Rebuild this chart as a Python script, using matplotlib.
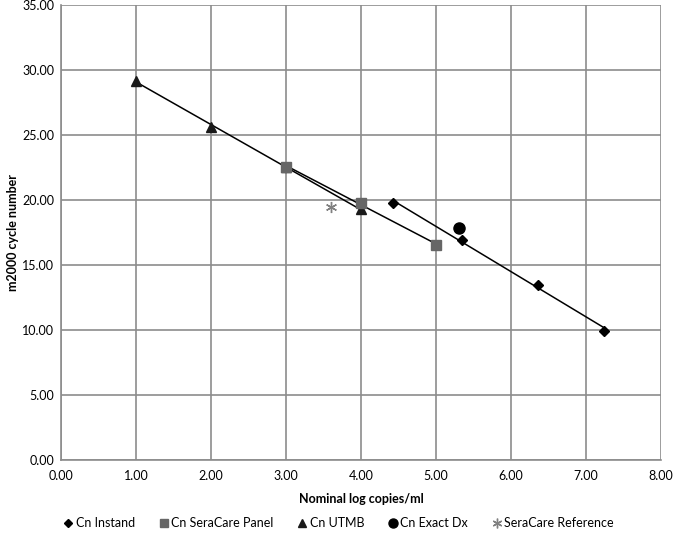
import numpy as np
import matplotlib
matplotlib.use("Agg")
import matplotlib.pyplot as plt
from matplotlib.lines import Line2D

plt.rcParams['font.family'] = ['Lato', 'DejaVu Sans']

# Data
instand_x = [4.43, 5.35, 6.36, 7.24]
instand_y = [19.77, 16.90, 13.50, 9.95]
panel_x = [3.0, 4.0, 5.0]
panel_y = [22.56, 19.80, 16.54]
utmb_x = [1.0, 2.0, 3.0, 4.0]
utmb_y = [29.18, 25.64, 22.56, 19.28]
exact_x = [5.31]
exact_y = [17.85]
ref_x = [3.60]
ref_y = [19.46]

x_ticks = [0, 1, 2, 3, 4, 5, 6, 7, 8]
y_ticks = [0, 5, 10, 15, 20, 25, 30, 35]

fig = plt.figure(figsize=(6.75, 5.41), dpi=100)
ax = fig.add_axes([61/675, 1 - 460/541, 600/675, 455/541])

grid_c = '#8c8c8c'
ax.set_xlim(0, 8)
ax.set_ylim(0, 35)
ax.set_xticks(x_ticks)
ax.set_yticks(y_ticks)
ax.set_xticklabels([f"{v:.2f}" for v in x_ticks], fontsize=9)
ax.set_yticklabels([f"{v:.2f}" for v in y_ticks], fontsize=9)
ax.grid(True, color=grid_c, linewidth=1.2)
ax.set_axisbelow(True)
for s in ['top', 'right']:
    ax.spines[s].set_visible(False)
for s in ['left', 'bottom']:
    ax.spines[s].set_color(grid_c)
    ax.spines[s].set_linewidth(1.2)
ax.tick_params(axis='x', length=0, pad=7)
ax.tick_params(axis='y', length=0, pad=5)

# trendlines
for xs, ys in [(instand_x, instand_y), (panel_x, panel_y), (utmb_x, utmb_y)]:
    p = np.polyfit(xs, ys, 1)
    xx = np.array([min(xs), max(xs)])
    ax.plot(xx, np.polyval(p, xx), color='black', linewidth=1.1, zorder=2)

ax.plot(utmb_x, utmb_y, linestyle='none', marker='^', color='#1a1a1a', ms=7, zorder=3)
ax.plot(panel_x, panel_y, linestyle='none', marker='s', color='#666666', ms=7, zorder=4)
ax.plot(instand_x, instand_y, linestyle='none', marker='D', color='black', ms=5.5, zorder=4)
ax.plot(exact_x, exact_y, linestyle='none', marker='o', color='black', ms=8, zorder=4)
ax.plot(ref_x, ref_y, linestyle='none', marker=(6, 2, 0), color='#808080', ms=8, mew=1, zorder=4)

ax.set_xlabel('Nominal log copies/ml', fontsize=9, fontweight='bold', labelpad=8)
ax.set_ylabel('m2000 cycle number', fontsize=9, fontweight='bold', labelpad=2)

handles = [
    Line2D([], [], linestyle='none', marker='D', color='black', ms=4.5),
    Line2D([], [], linestyle='none', marker='s', color='#666666', ms=6),
    Line2D([], [], linestyle='none', marker='^', color='#1a1a1a', ms=6),
    Line2D([], [], linestyle='none', marker='o', color='black', ms=6.5),
    Line2D([], [], linestyle='none', marker=(6, 2, 0), color='#808080', ms=7, mew=1),
]
labels = ['Cn Instand', 'Cn SeraCare Panel', 'Cn UTMB', 'Cn Exact Dx', 'SeraCare Reference']
fig.legend(handles, labels, loc='center', bbox_to_anchor=(338/675, 1 - 523/541), ncol=5,
           frameon=False, fontsize=9, handletextpad=0.1, columnspacing=1.8, handlelength=1.0)

fig.savefig('out.png', dpi=100)
